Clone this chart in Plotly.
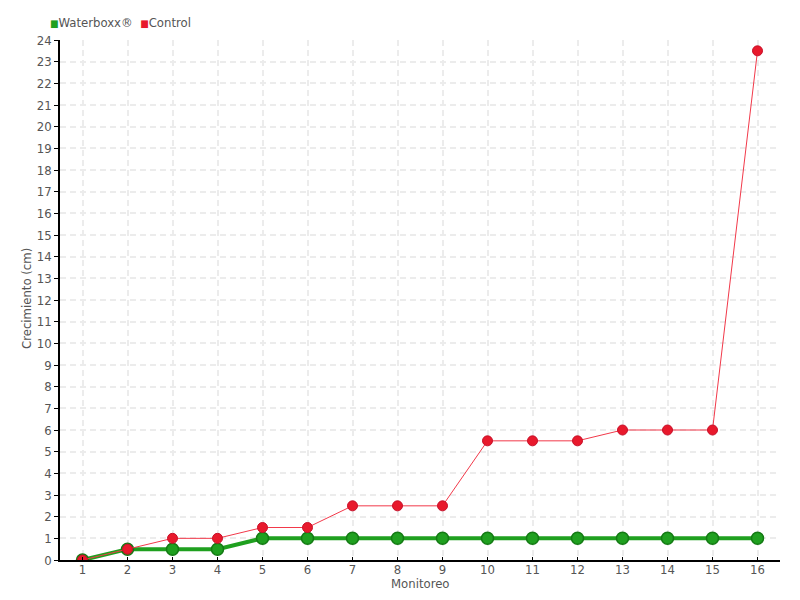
import plotly.graph_objects as go

monitoreo = list(range(1, 17))
waterboxx = [0, 0.5, 0.5, 0.5, 1, 1, 1, 1, 1, 1, 1, 1, 1, 1, 1, 1]
control = [0, 0.5, 1, 1, 1.5, 1.5, 2.5, 2.5, 2.5, 5.5, 5.5, 5.5, 6, 6, 6, 23.5]
y_ticks = list(range(0, 25))
series_names = ["Waterboxx®", "Control"]
series_colors = ["#1fa01f", "#e8192c"]

font_fam = "Liberation Sans Narrow, DejaVu Sans Condensed, Roboto, sans-serif"
fig = go.Figure()
fig.add_trace(go.Scatter(
    x=monitoreo, y=waterboxx, mode="lines+markers", name=series_names[0], showlegend=False,
    line=dict(color="#1fa01f", width=4),
    marker=dict(size=12, color="#1fa01f", line=dict(color="#137a13", width=1.5)),
))
fig.add_trace(go.Scatter(
    x=monitoreo, y=control, mode="lines+markers", name=series_names[1], showlegend=False,
    line=dict(color="#f2394a", width=1),
    marker=dict(size=10, color="#e8192c", line=dict(color="#c8102a", width=1)),
))

legend_text = "  ".join(
    f"<span style='color:{c};font-size:10px'>■</span>{n}" for n, c in zip(series_names, series_colors)
)
fig.add_annotation(text=legend_text, xref="paper", yref="paper", x=-0.017, y=1.0,
                   xanchor="left", yanchor="bottom", yshift=8, showarrow=False,
                   font=dict(size=13, color="#555555"))
fig.add_annotation(text="Monitoreo", xref="paper", yref="paper", x=0.5, y=0,
                   xanchor="center", yanchor="middle", yshift=-23, showarrow=False,
                   font=dict(size=13, color="#555555"))
fig.add_annotation(text="Crecimiento (cm)", xref="paper", yref="paper", x=0, y=0.5,
                   xanchor="center", yanchor="middle", xshift=-34, yshift=1, textangle=-90,
                   showarrow=False, font=dict(size=13, color="#555555"))

fig.update_layout(
    width=784, height=584,
    margin=dict(l=52, r=12, t=32, b=32),
    plot_bgcolor="white", paper_bgcolor="white",
    font=dict(family=font_fam, size=12, color="#555555"),
    showlegend=False,
    xaxis=dict(
        range=[0.5, 16.5], tickmode="array", tickvals=monitoreo, ticktext=[str(m) for m in monitoreo],
        showline=True, linecolor="black", linewidth=1.5, ticks="inside", ticklen=3, tickcolor="black",
        ticklabelstandoff=-3, tickfont=dict(size=13),
        showgrid=True, gridcolor="#ececec", griddash="6px,4px", gridwidth=1.5, zeroline=False,
        automargin=False,
    ),
    yaxis=dict(
        range=[0, 24], tickmode="array", tickvals=y_ticks, ticktext=[str(v) for v in y_ticks],
        showline=True, linecolor="black", linewidth=1.5, ticks="outside", ticklen=4, tickcolor="black",
        tickfont=dict(size=13),
        showgrid=True, gridcolor="#ececec", griddash="6px,4px", gridwidth=1.5, zeroline=False,
        automargin=False,
    ),
)
fig.write_html("out.html")
